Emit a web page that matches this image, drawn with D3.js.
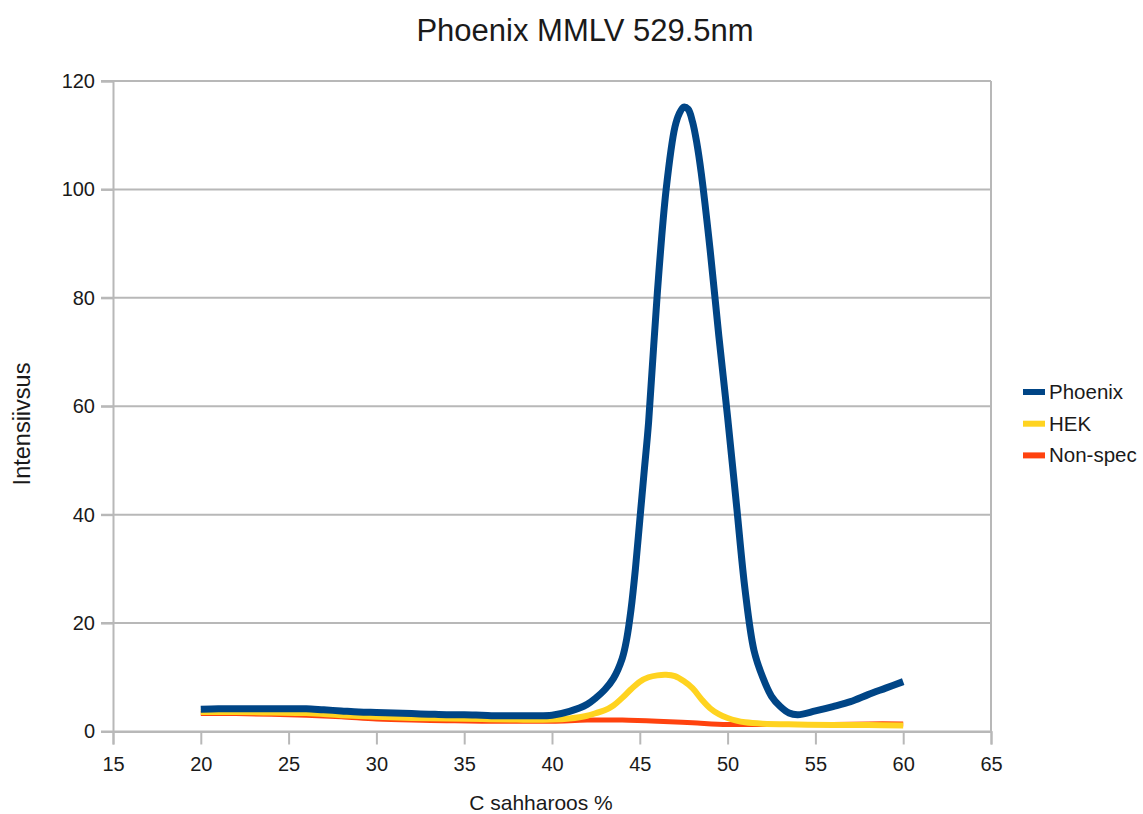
<!DOCTYPE html>
<html>
<head>
<meta charset="utf-8">
<script src="https://cdn.jsdelivr.net/npm/d3@7"></script>
<style>
  html, body { margin: 0; padding: 0; background: #ffffff; }
  svg { display: block; font-family: "Liberation Sans", Arial, sans-serif; }
</style>
</head>
<body>
<svg id="chart" width="1143" height="814"></svg>
<script>
// Sucrose concentration (%) and measured intensity for each sample
const phoenixX = [20,21,22,23,24,25,26,27,28,29,30,31,32,33,34,35,36,37,38,39,40,41,42,42.5,43,43.5,44,44.25,44.5,44.75,45,45.25,45.5,46,46.5,47,47.25,47.5,47.75,48,48.25,48.5,49,49.5,50,50.5,51,51.5,52,52.5,53,53.5,54,55,56,57,58,59,60];
const phoenixY = [4.1,4.2,4.2,4.2,4.2,4.2,4.2,4.0,3.8,3.6,3.5,3.4,3.3,3.2,3.1,3.1,3.0,2.9,2.9,2.9,3.0,3.7,5.0,6.2,7.7,9.8,13.5,17,22.5,30,39,48,57,81,100,111.5,114,115.2,114.8,112.5,108.5,103,89,73,58,42,26,15,10,6.5,4.6,3.4,3.1,3.8,4.6,5.5,6.8,8.0,9.2];

const hekX = [20,22,24,26,28,30,32,34,36,38,40,41,42,42.5,43,43.5,44,44.5,45,45.5,46,46.5,47,47.5,48,48.5,49,49.5,50,50.5,51,52,54,56,58,60];
const hekY = [3.6,3.6,3.5,3.4,3.0,2.7,2.5,2.4,2.3,2.2,2.2,2.4,2.9,3.4,3.9,4.8,6.2,7.8,9.2,10.0,10.35,10.45,10.2,9.3,8.0,6.0,4.3,3.2,2.5,2.0,1.7,1.45,1.3,1.2,1.2,1.1];

const nonSpecX = [20,22,24,26,28,30,32,34,36,38,40,42,44,46,48,50,52,54,56,58,60];
const nonSpecY = [3.3,3.3,3.2,3.0,2.7,2.3,2.1,2.0,1.9,1.9,1.9,2.1,2.1,1.9,1.6,1.3,1.3,1.3,1.3,1.4,1.4];

const seriesNames = ["Phoenix", "HEK", "Non-spec"];
const seriesColors = ["#004586", "#ffd320", "#ff420e"];
const seriesWidths = [7, 6, 5];

const xTicks = [15,20,25,30,35,40,45,50,55,60,65];
const yTicks = [0,20,40,60,80,100,120];

const titleText = "Phoenix MMLV 529.5nm";
const xLabel = "C sahharoos %";
const yLabel = "Intensiivsus";

const svg = d3.select("#chart");
const plotLeft = 113, plotRight = 991, plotTop = 81, plotBottom = 731.5;

const x = d3.scaleLinear().domain([15, 65]).range([plotLeft, plotRight]);
const y = d3.scaleLinear().domain([0, 120]).range([plotBottom, plotTop]);

const gridColor = "#b8b8b8";
const textColor = "#1a1a1a";
const fontFamily = "'Liberation Sans', Arial, sans-serif";

// horizontal grid lines with their left tick stubs
svg.append("g")
  .selectAll("line")
  .data(yTicks)
  .join("line")
  .attr("x1", plotLeft - 12).attr("x2", plotRight)
  .attr("y1", d => y(d)).attr("y2", d => y(d))
  .attr("stroke", gridColor).attr("stroke-width", 2);

// y axis
const yAxis = svg.append("g")
  .attr("transform", `translate(${plotLeft},0)`)
  .call(d3.axisLeft(y).tickValues(yTicks).tickSize(12).tickPadding(6));
yAxis.select(".domain").attr("stroke", gridColor).attr("stroke-width", 2);
yAxis.selectAll(".tick line").attr("stroke", gridColor).attr("stroke-width", 2);
yAxis.selectAll(".tick text")
  .attr("fill", textColor).attr("font-size", 20)
  .attr("font-family", fontFamily);

// x axis
const xAxis = svg.append("g")
  .attr("transform", `translate(0,${plotBottom})`)
  .call(d3.axisBottom(x).tickValues(xTicks).tickSize(13).tickPadding(12));
xAxis.select(".domain").attr("stroke", gridColor).attr("stroke-width", 2);
xAxis.selectAll(".tick line").attr("stroke", gridColor).attr("stroke-width", 2);
xAxis.selectAll(".tick text")
  .attr("fill", textColor).attr("font-size", 20)
  .attr("font-family", fontFamily);

// right border of the plot area
svg.append("line")
  .attr("x1", x(65)).attr("x2", x(65))
  .attr("y1", plotTop).attr("y2", plotBottom)
  .attr("stroke", gridColor).attr("stroke-width", 2);

// data lines, smoothed through the measured points
const series = [
  { xs: nonSpecX, ys: nonSpecY, i: 2 },
  { xs: hekX, ys: hekY, i: 1 },
  { xs: phoenixX, ys: phoenixY, i: 0 }
];
const line = d3.line()
  .x(d => x(d[0]))
  .y(d => y(d[1]))
  .curve(d3.curveCatmullRom.alpha(0.5));

series.forEach(s => {
  const pts = s.xs.map((v, k) => [v, s.ys[k]]);
  svg.append("path")
    .datum(pts)
    .attr("d", line)
    .attr("fill", "none")
    .attr("stroke", seriesColors[s.i])
    .attr("stroke-width", seriesWidths[s.i])
    .attr("stroke-linejoin", "round")
    .attr("stroke-linecap", "butt");
});

// title
svg.append("text")
  .attr("x", 585).attr("y", 41)
  .attr("text-anchor", "middle")
  .attr("font-size", 31)
  .attr("fill", textColor)
  .text(titleText);

// axis titles
svg.append("text")
  .attr("x", 541).attr("y", 810)
  .attr("text-anchor", "middle")
  .attr("font-size", 21)
  .attr("fill", textColor)
  .text(xLabel);

svg.append("text")
  .attr("transform", `translate(30,${424}) rotate(-90)`)
  .attr("text-anchor", "middle")
  .attr("font-size", 23.5)
  .attr("fill", textColor)
  .text(yLabel);

// legend
const legend = svg.append("g");
seriesNames.forEach((name, i) => {
  const ly = 392 + i * 31.7;
  legend.append("line")
    .attr("x1", 1023).attr("x2", 1045)
    .attr("y1", ly).attr("y2", ly)
    .attr("stroke", seriesColors[i]).attr("stroke-width", 6);
  legend.append("text")
    .attr("x", 1049).attr("y", ly + 7)
    .attr("font-size", 20.5)
    .attr("fill", textColor)
    .text(name);
});
</script>
</body>
</html>
